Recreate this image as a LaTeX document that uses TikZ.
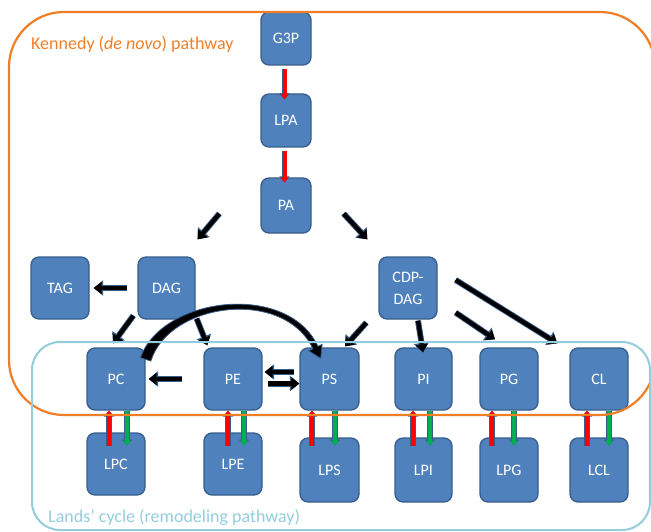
\documentclass[tikz,border=0pt]{standalone}
\usepackage{fontspec}
\setmainfont{Carlito}
\usetikzlibrary{arrows.meta,calc}
\definecolor{boxfill}{HTML}{4F81BD}
\definecolor{boxline}{HTML}{385D8A}
\definecolor{kennedy}{HTML}{F07E26}
\definecolor{lands}{HTML}{93CDDD}
\definecolor{acyl}{HTML}{FF0000}
\definecolor{lyso}{HTML}{00B050}
\begin{document}
\begin{tikzpicture}[x=1pt,y=-1pt,
  lipid/.style={draw=boxline, line width=1.3pt, fill=boxfill, rounded corners=8pt,
    text=white, font=\fontsize{16}{22}\selectfont, minimum width=58pt,
    minimum height=62pt, inner sep=0pt, align=center},
  flux/.style={line width=4.2pt, black, -{Triangle[length=8pt,width=12pt]},
    preaction={draw=boxline, line width=6pt, -{Triangle[length=9.5pt,width=15pt]}}},
  acylup/.style={line width=4pt, acyl, -{Triangle[length=5pt,width=8pt]},
    preaction={draw=boxline, line width=5.6pt, -{Triangle[length=6pt,width=10pt]}}},
  lysodown/.style={line width=4pt, lyso, -{Triangle[length=5pt,width=8pt]},
    preaction={draw=boxline, line width=5.6pt, -{Triangle[length=6pt,width=10pt]}}},
  framelabel/.style={anchor=west, inner sep=0pt, font=\fontsize{18}{20}\selectfont}
]
\useasboundingbox (0,0) rectangle (651,532);

% Kennedy pathway precursors
\node[lipid, minimum width=50pt, minimum height=53pt] (G3P) at (286,38.5) {G3P};
\node[lipid, minimum width=50pt, minimum height=53pt] (LPA) at (286,120.5) {LPA};
\node[lipid, minimum width=50pt, minimum height=55pt] (PA)  at (286,205.5) {PA};
\node[lipid] (TAG) at (60,288) {TAG};
\node[lipid, minimum width=57pt] (DAG) at (166.5,288) {DAG};
\node[lipid] (CDP) at (408,288) {CDP-\\DAG};

% phospholipids
\node[lipid] (PC) at (116,379) {PC};
\node[lipid] (PE) at (233,379) {PE};
\node[lipid, minimum width=59pt] (PS) at (329.5,379) {PS};
\node[lipid, minimum width=57pt] (PI) at (423.5,379) {PI};
\node[lipid] (PG) at (509,379) {PG};
\node[lipid] (CL) at (599,379) {CL};

% lyso forms
\node[lipid] (LPC) at (116,464) {LPC};
\node[lipid] (LPE) at (233,464) {LPE};
\node[lipid, minimum width=59pt, minimum height=64pt] (LPS) at (329.5,470) {LPS};
\node[lipid, minimum width=57pt, minimum height=64pt] (LPI) at (423.5,470) {LPI};
\node[lipid, minimum height=64pt] (LPG) at (509,470) {LPG};
\node[lipid, minimum height=64pt] (LCL) at (599,470) {LCL};

% acylation steps of the de novo route
\draw[acylup] ([shift={(-1.5,3)}]G3P.south) -- ([shift={(-1.5,6)}]LPA.north);
\draw[acylup] ([shift={(-1.5,3)}]LPA.south) -- ([shift={(-1.5,5)}]PA.north);

% black flux arrows
\draw[flux] ([shift={(-41,-20)}]PA.south west) -- ([shift={(2,-17)}]DAG.north east);
\draw[flux] ([shift={(32,-20)}]PA.south east) -- ([shift={(-11,-17)}]CDP.north west);
\draw[flux] ([shift={(-10,0)}]DAG.west) -- ([shift={(4,0)}]TAG.east);
\draw[flux] ([shift={(-4,-4)}]DAG.south west) -- ([shift={(-3,-4)}]PC.north);
\draw[flux] ([shift={(1,-1)}]DAG.south east) -- ([shift={(4,-2)}]PE.north west);
\draw[flux] ([shift={(-12,3)}]CDP.south west) -- ([shift={(15.5,-1)}]PS.north);
\draw[flux] ([shift={(10,1)}]CDP.south) -- ([shift={(-0.5,5)}]PI.north);
\draw[flux] ([shift={(18,-7)}]CDP.south east) -- ([shift={(-14,-8)}]PG.north);
\draw[flux] ([shift={(18,-8)}]CDP.east) -- ([shift={(-12,-4)}]CL.north west);
\draw[flux] ([shift={(-21,0)}]PE.west) -- ([shift={(3,0)}]PC.east);
\draw[flux] ([shift={(-5,-7)}]PS.west) -- ([shift={(2,-7)}]PE.east);
\draw[flux] ([shift={(5,4.5)}]PE.east) -- ([shift={(0,4.5)}]PS.west);

% tapered curved arrow from PC over to PS
\begin{scope}[shift={(PC.north east)}]
  \fill[black, draw=boxline, line width=0.8pt, line join=round]
    (-5.2,10.3) .. controls (16.6,-51) and (142,-65.9) .. (172.3,-1)
    -- (176.5,-3) -- (175,11) -- (163,3.4) -- (167.3,1.4)
    .. controls (138,-60.1) and (23.4,-45) .. (5.2,13.7) -- cycle;
\end{scope}

% Lands' cycle: acylation (red) and deacylation (green)
\foreach \upper/\dr/\dg in {PC/-7/11, PE/-5/11, PS/-17.5/5.5,
    PI/-10.5/6.5, PG/-17/5, CL/-12/10}{
  \draw[acylup] ([shift={(\dr,35)}]\upper.south) -- ([shift={(\dr,0)}]\upper.south);
  \draw[lysodown] ([shift={(\dg,0)}]\upper.south) -- ([shift={(\dg,35)}]\upper.south);
}

% pathway frames
\draw[kennedy, line width=2.2pt, rounded corners=55pt] (9,12) rectangle (655,415);
\draw[lands, line width=2pt, rounded corners=28pt] (32,342) rectangle (650,530);
\node[framelabel, text=kennedy] (kennedylabel) at (31,44) {Kennedy (\textit{de novo}) pathway};
\node[framelabel, text=lands] (landslabel) at (48,517) {Lands’ cycle (remodeling pathway)};
\end{tikzpicture}
\end{document}
